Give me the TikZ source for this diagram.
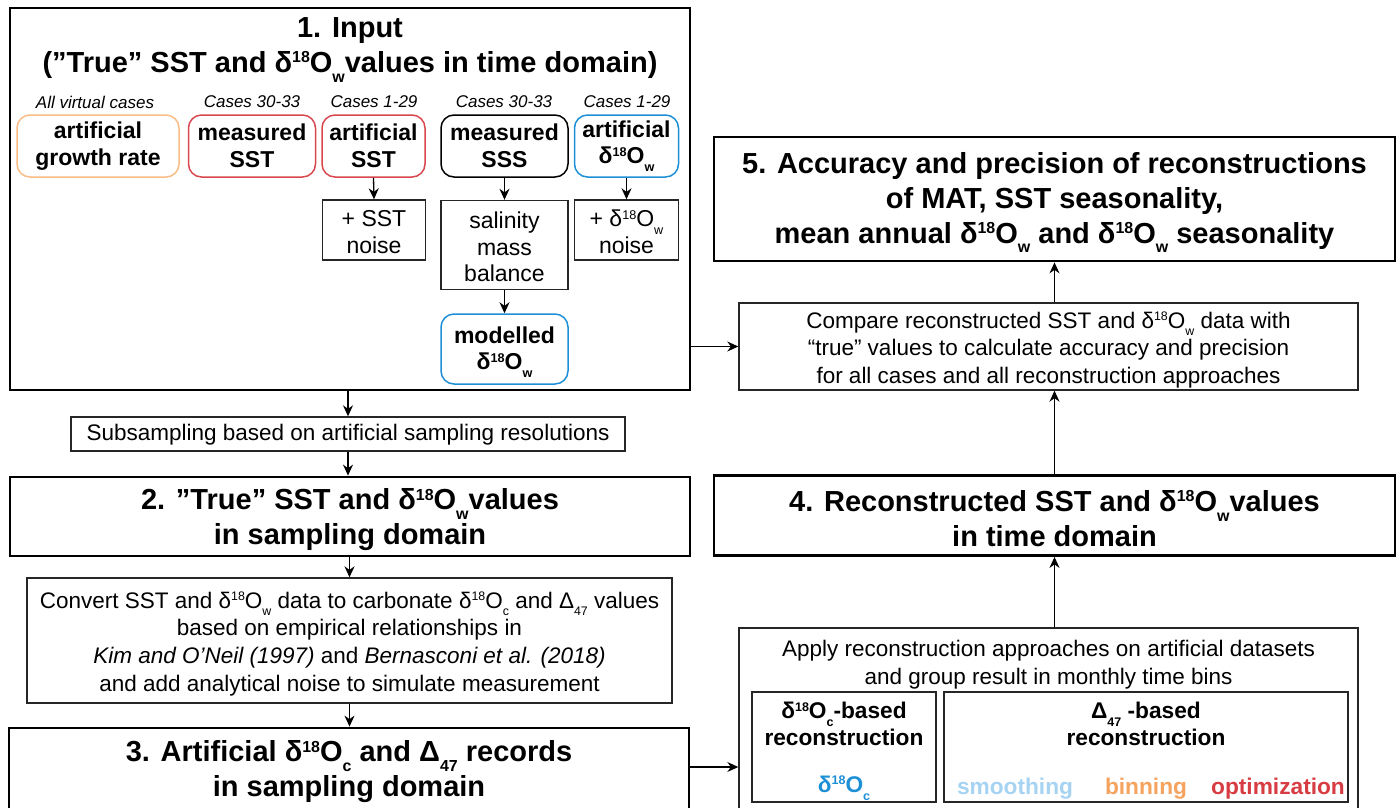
\documentclass[tikz,border=0pt]{standalone}
\usepackage{fontspec}
\setmainfont{Liberation Sans}
\usetikzlibrary{arrows.meta,calc}
\definecolor{corange}{HTML}{F9BC86}
\definecolor{cred}{HTML}{D8474E}
\definecolor{cblue}{HTML}{1C8FD6}
\definecolor{csmooth}{HTML}{A6D3F2}
\definecolor{cbin}{HTML}{F5A35E}
\definecolor{copt}{HTML}{D63C42}
\newcommand{\smallsz}{\fontsize{\dimexpr0.55\fontdimen6\font\relax}{0pt}\selectfont}
\newcommand{\mysup}[1]{\raisebox{0.33em}{\smallsz #1}}
\newcommand{\mysub}[1]{\raisebox{-0.34em}{\smallsz #1}}
\newcommand{\dOx}[1]{δ\mysup{18}O\mysub{#1}}
\newcommand{\Dfs}{Δ\mysub{47}}
\tikzset{
  bigbox/.style={draw=black, line width=2.8pt, inner sep=0pt},
  smallbox/.style={draw=black!85, line width=1.4pt, inner sep=0pt},
  rbox/.style={draw, line width=1.5pt, rounded corners=13pt, inner sep=0pt, align=center,
    font=\fontsize{23}{26.7}\selectfont\bfseries},
  plainbox/.style={draw=black!85, line width=1.4pt, inner sep=0pt, align=center,
    font=\fontsize{23}{26.5}\selectfont},
  ttl/.style={align=center, inner sep=0pt, font=\fontsize{29}{35}\selectfont\bfseries},
  body/.style={align=center, inner sep=0pt, font=\fontsize{22.5}{27.7}\selectfont},
  cases/.style={inner sep=0pt, font=\fontsize{17}{18}\selectfont\itshape},
  sub/.style={align=center, inner sep=0pt, font=\fontsize{22.7}{27}\selectfont\bfseries},
  arr/.style={line width=1.3pt, -{Stealth[length=11pt,width=10pt]}},
}
\begin{document}
\begin{tikzpicture}[x=1pt,y=-1pt]
\useasboundingbox (0,0) rectangle (1398,807);
% ---------- Box 1: Input
\node[bigbox, minimum width=680, minimum height=382] (in) at (350,199) {};
\node[ttl] (inT) at (350,50) {1. Input\\(”True” SST and \dOx{w}values in time domain)};
\node[cases] (c1) at (95,102) {All virtual cases};
\node[cases] (c2) at (252,102) {Cases 30-33};
\node[cases] (c3) at (374,102) {Cases 1-29};
\node[cases] (c4) at (504,102) {Cases 30-33};
\node[cases] (c5) at (627,102) {Cases 1-29};
\node[rbox, draw=corange, minimum width=162, minimum height=62] (gr) at (98,146) {artificial\\growth rate};
\node[rbox, draw=cred, minimum width=127, minimum height=62] (msst) at (252,146) {measured\\SST};
\node[rbox, draw=cred, minimum width=103, minimum height=62] (asst) at (373.5,146) {artificial\\SST};
\node[rbox, draw=black, minimum width=127, minimum height=62] (msss) at (504.5,146) {measured\\SSS};
\node[rbox, draw=cblue, minimum width=104, minimum height=62] (ad) at (626.5,146) {artificial\\\dOx{w}};
\node[plainbox, minimum width=103, minimum height=60] (sn) at (374,230) {};
\node[plainbox, draw=none] (snT) at (374,232) {+ SST\\noise};
\node[plainbox, minimum width=127, minimum height=89] (sal) at (504.5,245) {};
\node[plainbox, draw=none] (salT) at (504.5,247) {salinity\\mass\\balance};
\node[plainbox, minimum width=104, minimum height=60] (dn) at (626.5,230) {};
\node[plainbox, draw=none] (dnT) at (626.5,232) {+ \dOx{w}\\noise};
\node[rbox, draw=cblue, minimum width=127, minimum height=70] (mod) at (504.5,349) {};
\node[rbox, draw=none] (modT) at (504.5,352) {modelled\\\dOx{w}};
\draw[arr] (asst.south) -- (sn.north);
\draw[arr] (msss.south) -- (sal.north);
\draw[arr] (sal.south) -- (mod.north);
\draw[arr] (ad.south) -- (dn.north);
% ---------- Subsampling
\node[smallbox, minimum width=554, minimum height=34] (sub) at (348,434) {};
\node[body] (subT) at (348,435) {Subsampling based on artificial sampling resolutions};
% ---------- Box 2
\node[bigbox, minimum width=680, minimum height=79] (b2) at (350,516.5) {};
\node[ttl] (b2T) at (350,520) {2. ”True” SST and \dOx{w}values\\in sampling domain};
% ---------- Convert
\node[smallbox, minimum width=645, minimum height=125] (conv) at (349.5,640.5) {};
\node[body] (convT) at (349.5,644) {Convert SST and \dOx{w} data to carbonate \dOx{c} and \Dfs{} values\\based on empirical relationships in\\\textit{Kim and O’Neil (1997)} and \textit{Bernasconi et al. (2018)}\\and add analytical noise to simulate measurement};
% ---------- Box 3
\node[bigbox, minimum width=680, minimum height=112] (b3) at (349,784) {};
\node[ttl] (b3T) at (349,772) {3. Artificial \dOx{c} and \Dfs{} records\\in sampling domain};
\coordinate (m3) at ([yshift=5pt]b3T.center);
% ---------- Box 5
\node[bigbox, minimum width=681, minimum height=124] (b5) at (1054.5,199) {};
\node[ttl] (b5T) at (1054.5,202.5) {5. Accuracy and precision of reconstructions\\of MAT, SST seasonality,\\mean annual \dOx{w} and \dOx{w} seasonality};
% ---------- Compare
\node[smallbox, minimum width=619, minimum height=87] (cmp) at (1048.5,346.5) {};
\node[body] (cmpT) at (1048.5,350) {Compare reconstructed SST and \dOx{w} data with\\“true” values to calculate accuracy and precision\\for all cases and all reconstruction approaches};
% ---------- Box 4
\node[bigbox, minimum width=681, minimum height=80] (b4) at (1054.5,515.5) {};
\node[ttl] (b4T) at (1054.5,518.5) {4. Reconstructed SST and \dOx{w}values\\in time domain};
% ---------- Apply
\node[smallbox, minimum width=619, minimum height=190] (ap) at (1048.5,723) {};
\node[body] (apT) at (1048.5,665) {Apply reconstruction approaches on artificial datasets\\and group result in monthly time bins};
\node[smallbox, minimum width=184, minimum height=110] (db) at (844,747) {};
\node[sub] (dbT) at (844,724) {\dOx{c}-based\\reconstruction};
\node[sub, text=cblue] (dbW) at (844,788) {\dOx{c}};
\node[smallbox, minimum width=404, minimum height=110] (Db) at (1146,747) {};
\node[sub] (DbT) at (1146,724) {\Dfs{} -based\\reconstruction};
\node[sub, text=csmooth] (sm) at (1015,789) {smoothing};
\node[sub, text=cbin] (bn) at (1146,789) {binning};
\node[sub, text=copt] (op) at (1278,789) {optimization};
% ---------- Connectors
\draw[arr] (sub.north |- in.south) -- (sub.north);
\draw[arr] (sub.south) -- (sub.south |- b2.north);
\draw[arr] (conv.north |- b2.south) -- (conv.north);
\draw[arr] (conv.south) -- (conv.south |- b3.north);
\draw[arr] (in.east |- cmp.west) -- (cmp.west);
\draw[arr] (b3.east |- m3) -- (ap.west |- m3);
\draw[arr] (b4.south |- ap.north) -- (b4.south);
\draw[arr] (b4.north) -- (b4.north |- cmp.south);
\draw[arr] (b5.south |- cmp.north) -- (b5.south);
\end{tikzpicture}
\end{document}
